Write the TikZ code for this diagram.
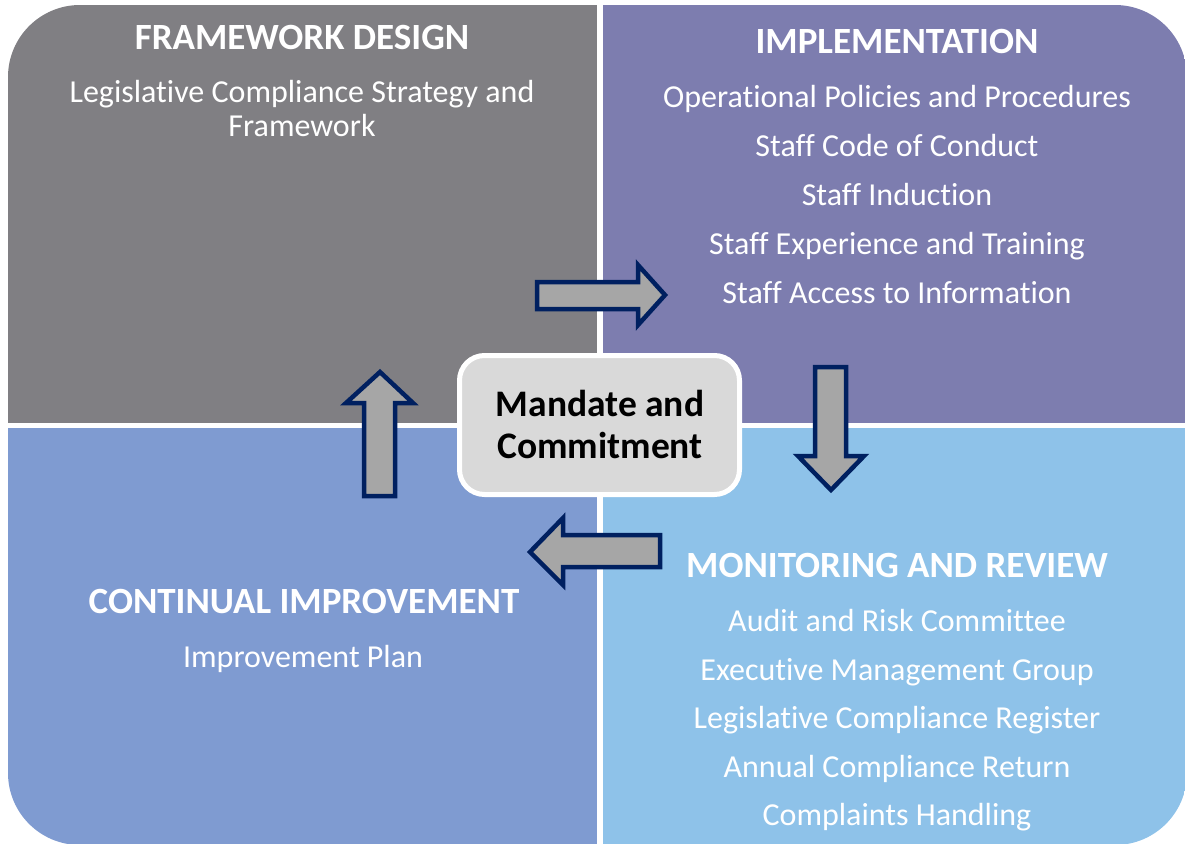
\documentclass[tikz,border=0pt]{standalone}
\usepackage{fontspec}
\setmainfont[Ligatures={NoCommon}]{Carlito}
\definecolor{qTL}{RGB}{128,127,131}
\definecolor{qTR}{RGB}{125,125,175}
\definecolor{qBL}{RGB}{127,155,209}
\definecolor{qBR}{RGB}{142,194,233}
\definecolor{boxfill}{RGB}{217,217,217}
\definecolor{arrowfill}{RGB}{166,166,166}
\definecolor{arrowline}{RGB}{0,32,96}
\begin{document}
\begin{tikzpicture}[x=1pt,y=-1pt,
  head/.style={text=white,font=\fontsize{37}{42}\selectfont\bfseries,anchor=base,inner sep=0pt},
  body/.style={text=white,font=\fontsize{32}{38}\selectfont,anchor=base,inner sep=0pt},
  ctext/.style={text=black,font=\fontsize{37.5}{42}\selectfont\bfseries,anchor=base,inner sep=0pt},
  centerbox/.style={draw=white,line width=5pt,fill=boxfill,rounded corners=25pt,
    minimum width=280pt,minimum height=139pt,inner sep=0pt},
  blockarrow/.style={fill=arrowfill,draw=arrowline,line width=4.5pt,line join=miter}]
\useasboundingbox (0,0) rectangle (1185,843);
% quadrants
\begin{scope}
\clip[rounded corners=72pt] (8,5) rectangle (1187,845);
\fill[qTL] (8,5) rectangle (597,423);
\fill[qTR] (603,5) rectangle (1187,423);
\fill[qBL] (8,428) rectangle (597,845);
\fill[qBR] (603,428) rectangle (1187,845);
\end{scope}
% texts
\node[head] (fdh) at (302,50) {FRAMEWORK DESIGN};
\node[body] (fd1) at (302,102) {Legislative Compliance Strategy and};
\node[body] (fd2) at (302,136) {Framework};
\node[head] (imh) at (897,53) {IMPLEMENTATION};
\node[body] (im1) at (897,107) {Operational Policies and Procedures};
\node[body] (im2) at (897,156) {Staff Code of Conduct};
\node[body] (im3) at (897,205) {Staff Induction};
\node[body] (im4) at (897,254) {Staff Experience and Training};
\node[body] (im5) at (897,303) {Staff Access to Information};
\node[head] (mrh) at (897,577) {MONITORING AND REVIEW};
\node[body] (mr1) at (897,631) {Audit and Risk Committee};
\node[body] (mr2) at (897,680) {Executive Management Group};
\node[body] (mr3) at (897,728) {Legislative Compliance Register};
\node[body] (mr4) at (897,777) {Annual Compliance Return};
\node[body] (mr5) at (897,825) {Complaints Handling};
\node[head] (cih) at (304,613) {CONTINUAL IMPROVEMENT};
\node[body] (ci1) at (303,667) {Improvement Plan};
% block arrows
\draw[blockarrow] (537,282) -- (638,282) -- (638,265) -- (665,295) -- (638,325) -- (638,309) -- (537,309) -- cycle;
\draw[blockarrow] (815,367) -- (846,367) -- (846,456) -- (864,456) -- (831,490) -- (798,456) -- (815,456) -- cycle;
\draw[blockarrow] (660,535) -- (563,535) -- (563,518) -- (530,552) -- (563,585) -- (563,567) -- (660,567) -- cycle;
\draw[blockarrow] (364,496) -- (364,403) -- (346,403) -- (380,372) -- (413,403) -- (395,403) -- (395,496) -- cycle;
% center
\node[centerbox] (mc) at (599.5,425) {};
\node[ctext] (mct1) at (600,416) {Mandate and};
\node[ctext] (mct2) at (600,458) {Commitment};
\end{tikzpicture}
\end{document}
